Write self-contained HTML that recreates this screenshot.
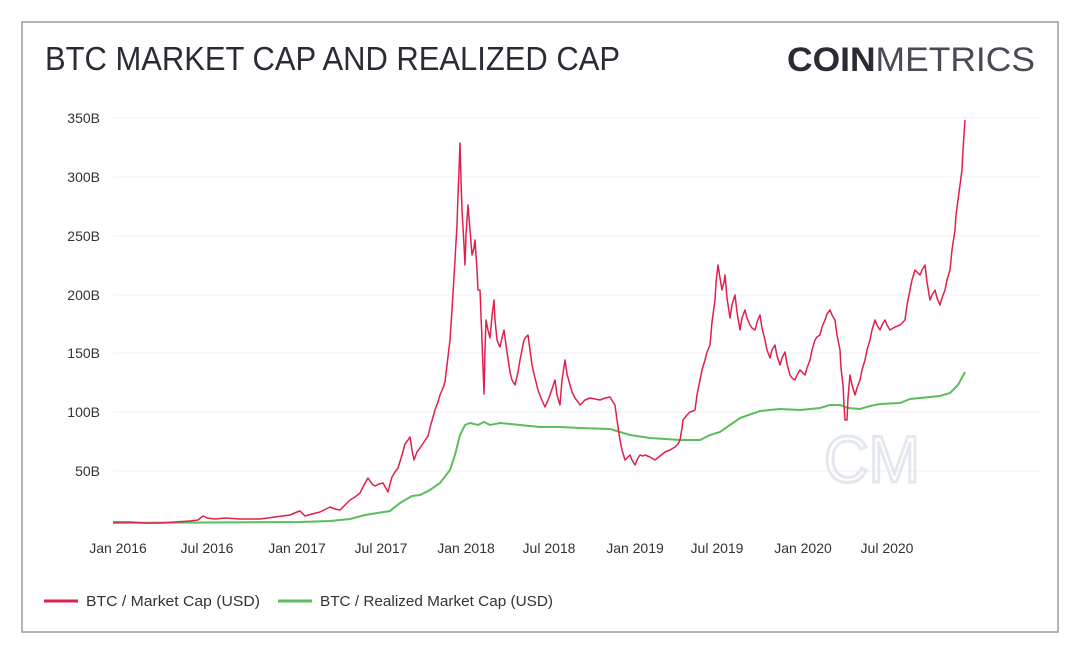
<!DOCTYPE html>
<html><head><meta charset="utf-8"><style>
body{margin:0;background:#fff;width:1080px;height:654px;overflow:hidden;font-family:"Liberation Sans",sans-serif}
</style></head><body>
<svg width="1080" height="654" xmlns="http://www.w3.org/2000/svg" font-family="Liberation Sans, sans-serif">
<rect x="22" y="22" width="1036" height="610" fill="#fff" stroke="#9a9a9a" stroke-width="1.5"/>
<text x="45" y="70" font-size="33" fill="#2b2b36" textLength="575" lengthAdjust="spacingAndGlyphs">BTC MARKET CAP AND REALIZED CAP</text>
<text x="1035" y="71" font-size="34" text-anchor="end" fill="#2b2b36" textLength="248" lengthAdjust="spacingAndGlyphs"><tspan font-weight="bold">COIN</tspan><tspan font-weight="normal" fill="#4a4a55">METRICS</tspan></text>
<g stroke="#f0f0f0" stroke-width="1">
<line x1="113" x2="1040" y1="118" y2="118"/><line x1="113" x2="1040" y1="177" y2="177"/><line x1="113" x2="1040" y1="236" y2="236"/><line x1="113" x2="1040" y1="295" y2="295"/><line x1="113" x2="1040" y1="353" y2="353"/><line x1="113" x2="1040" y1="412" y2="412"/><line x1="113" x2="1040" y1="471" y2="471"/>
</g>
<g font-size="14" fill="#333" text-anchor="end">
<text x="100" y="123">350B</text><text x="100" y="182">300B</text><text x="100" y="241">250B</text><text x="100" y="300">200B</text><text x="100" y="358">150B</text><text x="100" y="417">100B</text><text x="100" y="476">50B</text>
</g>
<g font-size="14" fill="#333" text-anchor="middle">
<text x="118" y="553">Jan 2016</text><text x="207" y="553">Jul 2016</text><text x="297" y="553">Jan 2017</text><text x="381" y="553">Jul 2017</text><text x="466" y="553">Jan 2018</text><text x="549" y="553">Jul 2018</text><text x="635" y="553">Jan 2019</text><text x="717" y="553">Jul 2019</text><text x="803" y="553">Jan 2020</text><text x="887" y="553">Jul 2020</text>
</g>
<text x="872" y="482" font-size="66" fill="none" stroke="#e3e7ee" stroke-width="3" text-anchor="middle" textLength="96" lengthAdjust="spacingAndGlyphs">CM</text>
<polyline fill="none" stroke="#5cbd5c" stroke-width="2" points="113,523 300,522 330,521 350,519 365,515 390,511 400,503 412,496 420,495 430,490 440,483 450,470 455,455 460,435 465,425 470,423 478,425 484,422 490,425 500,423 520,425 540,427 560,427 580,428 610,429 630,435 650,438 680,440 700,440 710,435 720,432 730,425 740,418 760,411 780,409 800,410 820,408 830,405 840,405 848,408 860,409 870,406 880,404 900,403 910,399 920,398 940,396 950,393 958,385 965,372"/>
<polyline fill="none" stroke="#e0204a" stroke-width="1.5" stroke-linejoin="round" points="113,522 130,522 145,523 160,523 175,522 190,521 198,520 203,516 207,518 215,519 225,518 240,519 260,519 275,517 290,515 297,512 300,511 305,516 312,514 320,512 326,509 330,507 335,509 340,510 345,505 350,500 355,497 360,493 364,485 368,478 372,484 375,486 379,484 383,483 388,492 390,484 392,477 395,472 398,468 402,455 405,444 408,440 410,437 412,450 414,460 417,452 420,448 424,442 428,436 431,424 435,410 438,402 440,395 443,388 445,382 447,365 450,340 452,310 455,260 457,225 458,195 459,170 460,143 461,180 462,210 464,245 465,265 466,235 468,205 470,230 472,255 474,248 475,240 477,270 478,290 480,290 482,340 484,394 485,350 486,320 488,330 490,338 492,316 494,300 495,320 497,340 499,345 500,347 502,338 504,330 507,352 510,372 512,380 515,385 518,372 520,360 522,350 524,340 526,337 528,335 530,350 532,365 535,378 538,390 541,398 545,407 548,400 550,395 553,386 555,380 557,395 560,405 562,380 565,360 567,374 570,385 572,392 575,398 578,402 580,405 585,400 590,398 595,399 600,400 605,398 610,397 613,402 615,405 617,420 620,440 622,450 625,460 628,457 630,455 632,460 635,465 638,458 640,455 643,456 645,455 650,457 655,460 660,456 665,452 670,450 675,447 678,444 680,440 682,428 683,420 687,415 690,412 693,411 695,410 697,395 700,380 702,370 705,360 707,352 710,345 712,322 715,300 716,283 718,265 720,278 722,290 724,282 725,275 727,298 730,318 732,305 735,295 737,312 740,330 742,318 745,310 747,318 750,325 752,328 755,330 757,322 760,315 762,328 765,340 767,350 770,358 772,350 775,345 777,356 780,365 782,358 785,352 787,364 790,375 792,378 795,380 797,375 800,370 802,372 805,375 807,368 810,360 812,350 815,340 817,337 820,335 822,327 825,320 827,314 830,310 832,315 835,320 837,335 840,350 841,368 843,385 844,405 845,420 847,420 848,398 850,375 852,385 855,395 857,388 860,380 862,370 865,360 867,350 870,340 872,330 875,320 877,325 880,330 882,325 885,320 887,325 890,330 895,327 900,325 902,323 905,320 907,305 910,290 912,280 915,270 917,272 920,275 922,270 925,265 927,282 930,300 932,295 935,290 937,298 940,305 942,298 945,290 947,280 950,270 952,250 955,230 956,215 958,200 960,185 962,170 963,150 965,120"/>
<line x1="44" x2="78" y1="601" y2="601" stroke="#e0204a" stroke-width="3"/>
<text x="86" y="606" font-size="15" fill="#333" textLength="174" lengthAdjust="spacingAndGlyphs">BTC / Market Cap (USD)</text>
<line x1="278" x2="312" y1="601" y2="601" stroke="#5cbd5c" stroke-width="3"/>
<text x="320" y="606" font-size="15" fill="#333" textLength="233" lengthAdjust="spacingAndGlyphs">BTC / Realized Market Cap (USD)</text>
</svg>
</body></html>
